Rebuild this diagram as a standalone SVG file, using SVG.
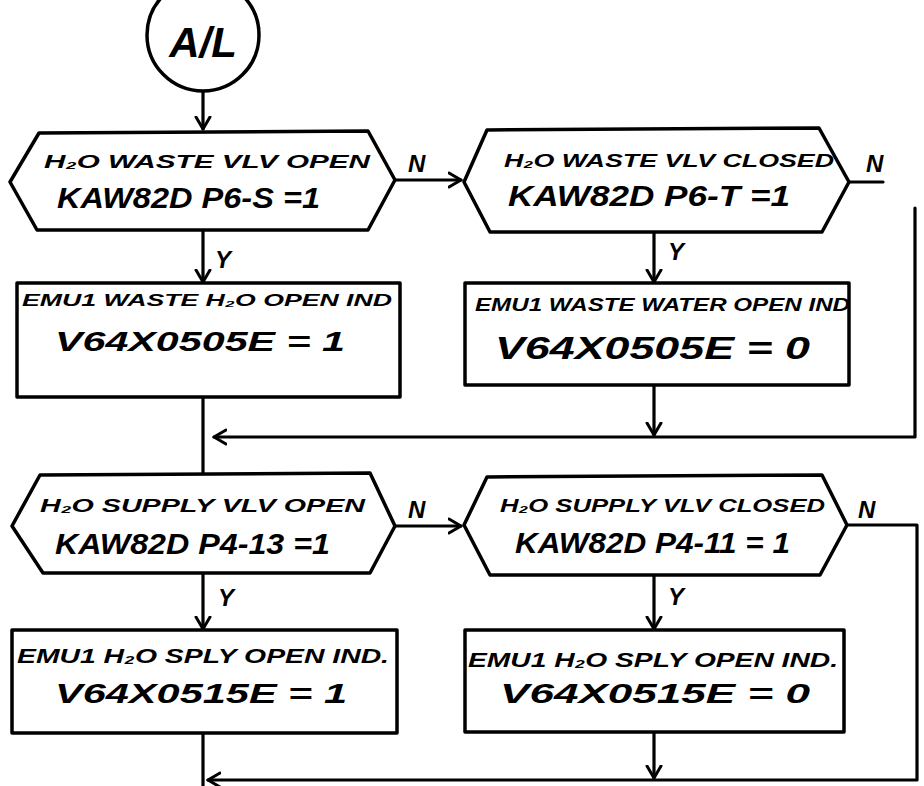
<svg xmlns="http://www.w3.org/2000/svg" width="924" height="786" viewBox="0 0 924 786">
<style>
.shape{fill:#fff;stroke:#000;stroke-width:3.5;stroke-linejoin:round}
.ln{fill:none;stroke:#000;stroke-width:3.2;stroke-linecap:round;stroke-linejoin:round}
.t{font-family:"Liberation Sans",Arial,sans-serif;font-style:italic;font-weight:bold;fill:#000}
.s1{font-size:19px}
.s2{font-size:29px}
.lbl{font-size:24px}
</style>
<defs>
<marker id="ah" markerUnits="userSpaceOnUse" markerWidth="18" markerHeight="18" refX="13" refY="8" orient="auto" viewBox="0 0 18 16">
<path d="M1,1 L13,8 L1,15" fill="none" stroke="#000" stroke-width="3" stroke-linecap="round" stroke-linejoin="round"/>
</marker>
</defs>
<rect width="924" height="786" fill="#fff"/>

<g id="connectors">
<path class="ln" d="M203,91 V129" marker-end="url(#ah)"/>
<path class="ln" d="M395,180 H461" marker-end="url(#ah)"/>
<path class="ln" d="M203,230 V282" marker-end="url(#ah)"/>
<path class="ln" d="M654,232 V282" marker-end="url(#ah)"/>
<path class="ln" d="M849,182 H883 M915,208 V437 H214" marker-end="url(#ah)"/>
<path class="ln" d="M654,385 V435" marker-end="url(#ah)"/>
<path class="ln" d="M203,397 V475"/>
<path class="ln" d="M395,526 H461" marker-end="url(#ah)"/>
<path class="ln" d="M203,573 V629" marker-end="url(#ah)"/>
<path class="ln" d="M654,575 V629" marker-end="url(#ah)"/>
<path class="ln" d="M847,525 H917 V780 H208" marker-end="url(#ah)"/>
<path class="ln" d="M654,732 V778" marker-end="url(#ah)"/>
<path class="ln" d="M203,733 V786"/>
<text class="t lbl" x="408" y="172">N</text>
<text class="t lbl" x="866" y="172">N</text>
<text class="t lbl" x="215" y="268">Y</text>
<text class="t lbl" x="668" y="260">Y</text>
<text class="t lbl" x="408" y="518">N</text>
<text class="t lbl" x="858" y="518">N</text>
<text class="t lbl" x="218" y="606">Y</text>
<text class="t lbl" x="668" y="605">Y</text>
</g>

<g id="start">
<circle class="shape" cx="203" cy="35" r="56"/>
<text class="t" x="203" y="57" font-size="42" text-anchor="middle">A/L</text>
</g>

<g id="d1">
<polygon class="shape" points="39,133 368,131 395,180 368,230 37,230 10,182"/>
<text class="t s1" x="44" y="168" textLength="326" lengthAdjust="spacingAndGlyphs">H₂O WASTE VLV OPEN</text>
<text class="t s2" x="57" y="208" textLength="263" lengthAdjust="spacingAndGlyphs">KAW82D P6-S =1</text>
</g>

<g id="d2">
<polygon class="shape" points="487,130 819,128 849,182 822,232 490,232 464,182"/>
<text class="t s1" x="504" y="167" textLength="330" lengthAdjust="spacingAndGlyphs">H₂O WASTE VLV CLOSED</text>
<text class="t s2" x="508" y="206" textLength="282" lengthAdjust="spacingAndGlyphs">KAW82D P6-T =1</text>
</g>

<g id="p1">
<rect class="shape" x="17" y="283" width="383" height="114"/>
<text class="t" x="22" y="306" font-size="17" textLength="370" lengthAdjust="spacingAndGlyphs">EMU1 WASTE H₂O OPEN IND</text>
<text class="t" x="55" y="351" font-size="28" textLength="290" lengthAdjust="spacingAndGlyphs">V64X0505E  =  1</text>
</g>

<g id="p2">
<rect class="shape" x="465" y="283" width="384" height="102"/>
<text class="t" x="475" y="311" font-size="19" textLength="375" lengthAdjust="spacingAndGlyphs">EMU1 WASTE WATER OPEN IND</text>
<text class="t" x="495" y="359" font-size="32" textLength="315" lengthAdjust="spacingAndGlyphs">V64X0505E = 0</text>
</g>

<g id="d3">
<polygon class="shape" points="40,475 370,473 395,526 370,573 43,573 12,526"/>
<text class="t s1" x="40" y="512" textLength="325" lengthAdjust="spacingAndGlyphs">H₂O SUPPLY VLV OPEN</text>
<text class="t s2" x="55" y="554" textLength="275" lengthAdjust="spacingAndGlyphs">KAW82D P4-13 =1</text>
</g>

<g id="d4">
<polygon class="shape" points="487,477 822,475 847,525 820,575 490,575 464,525"/>
<text class="t s1" x="500" y="512" textLength="325" lengthAdjust="spacingAndGlyphs">H₂O SUPPLY VLV CLOSED</text>
<text class="t s2" x="515" y="553" textLength="275" lengthAdjust="spacingAndGlyphs">KAW82D P4-11 = 1</text>
</g>

<g id="p3">
<rect class="shape" x="12" y="630" width="385" height="103"/>
<text class="t" x="17" y="663" font-size="21" textLength="372" lengthAdjust="spacingAndGlyphs">EMU1 H₂O SPLY OPEN IND.</text>
<text class="t" x="55" y="703" font-size="28" textLength="292" lengthAdjust="spacingAndGlyphs">V64X0515E  =  1</text>
</g>

<g id="p4">
<rect class="shape" x="465" y="630" width="379" height="102"/>
<text class="t" x="468" y="667" font-size="21" textLength="370" lengthAdjust="spacingAndGlyphs">EMU1 H₂O SPLY OPEN IND.</text>
<text class="t" x="500" y="703" font-size="28" textLength="310" lengthAdjust="spacingAndGlyphs">V64X0515E  = 0</text>
</g>
</svg>
